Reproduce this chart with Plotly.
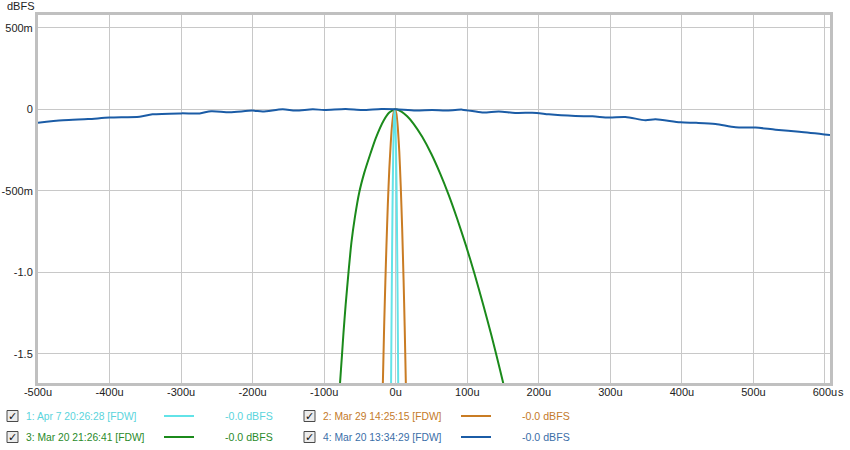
import plotly.graph_objects as go

# ---------------- data (x in microseconds, y in dBFS) ----------------
blue_x = [-500, -465, -430, -400, -358, -340, -300, -274, -258, -232, -200, -186, -158, -140, -116,
          -100, -70, -47, -20, 0, 28, 51, 70, 93, 121, 144, 167, 197, 214, 251, 275, 298, 321, 349,
          363, 398, 420, 447, 475, 503, 531, 564, 607]
blue_y = [-0.082, -0.067, -0.060, -0.051, -0.045, -0.031, -0.025, -0.025, -0.012, -0.018, -0.008,
          -0.014, 0.0, -0.008, 0.0, -0.004, 0.002, -0.004, 0.002, 0.0, -0.008, -0.004, -0.008, -0.002,
          -0.020, -0.014, -0.022, -0.022, -0.031, -0.041, -0.043, -0.051, -0.047, -0.067, -0.061,
          -0.080, -0.083, -0.090, -0.110, -0.112, -0.125, -0.137, -0.157]

green_x = [-79, -78, -75, -73, -70, -66, -62, -57, -51, -44, -36, -28, -17, -9, -1,
           8, 16, 25, 37, 50, 62, 74, 86, 98, 110, 122, 134, 146, 153]
green_y = [-1.78, -1.69, -1.50, -1.37, -1.20, -1.00, -0.82, -0.66, -0.51, -0.39, -0.28, -0.178, -0.07, -0.02, 0.0,
           -0.014, -0.043, -0.089, -0.169, -0.276, -0.393, -0.525, -0.673, -0.833, -1.007, -1.195, -1.391, -1.602, -1.73]

orange_x = [-18.5, -17, -16, -14.5, -13, -11, -9, -7, -5, -3, -1,
            1, 3, 5, 7, 9, 11, 12.5, 14, 14.5]
orange_y = [-1.78, -1.49, -1.30, -1.06, -0.84, -0.58, -0.37, -0.21, -0.093, -0.023, 0.0,
            -0.029, -0.117, -0.26, -0.47, -0.73, -1.05, -1.33, -1.65, -1.77]

cyan_x = [-6.5, -6.0, -5.5, -4.5, -3.5, -2.5, -1.5, -0.5, 0.5, 1.5, 2.5, 3.0, 3.5]
cyan_y = [-1.70, -1.38, -1.09, -0.61, -0.27, -0.068, 0.0, -0.068, -0.27, -0.61, -1.09, -1.38, -1.70]

x_ticks = [-500, -400, -300, -200, -100, 0, 100, 200, 300, 400, 500, 600]
x_labels = ["-500u", "-400u", "-300u", "-200u", "-100u", "0u", "100u", "200u", "300u", "400u", "500u", "600u"]
y_ticks = [0.5, 0, -0.5, -1.0, -1.5]
y_labels = ["500m", "0", "-500m", "-1.0", "-1.5"]

legend_names = ["1: Apr 7 20:26:28 [FDW]", "2: Mar 29 14:25:15 [FDW]",
                "3: Mar 20 21:26:41 [FDW]", "4: Mar 20 13:34:29 [FDW]"]
legend_values = ["-0.0 dBFS", "-0.0 dBFS", "-0.0 dBFS", "-0.0 dBFS"]

C_CYAN = "#62e3e8"
C_ORANGE = "#c97c24"
C_GREEN = "#1b8a1b"
C_BLUE = "#1b5ca6"
TXT_COLORS = ["#5ad4dc", "#c47a2a", "#2a8a2a", "#3a6ea8"]
LINE_COLORS = [C_CYAN, C_ORANGE, C_GREEN, C_BLUE]

W, H = 850, 450
L, R, T, B = 38, 20, 15, 67
PW, PH = W - L - R, H - T - B


def px(x):
    return (x - L) / PW


def py(y):
    return (H - B - y) / PH


fig = go.Figure()
fig.add_trace(go.Scatter(x=green_x, y=green_y, mode="lines", line=dict(color=C_GREEN, width=2, shape="spline", smoothing=0.5)))
fig.add_trace(go.Scatter(x=orange_x, y=orange_y, mode="lines", line=dict(color=C_ORANGE, width=2, shape="spline", smoothing=0.5)))
fig.add_trace(go.Scatter(x=cyan_x, y=cyan_y, mode="lines", line=dict(color=C_CYAN, width=2, shape="spline", smoothing=0.5)))
fig.add_trace(go.Scatter(x=blue_x, y=blue_y, mode="lines", line=dict(color=C_BLUE, width=2, shape="spline", smoothing=0.8)))

FONT = "Liberation Sans, Arial, sans-serif"

fig.update_layout(
    width=W, height=H,
    margin=dict(l=L, r=R, t=T, b=B, autoexpand=False),
    paper_bgcolor="white", plot_bgcolor="white",
    showlegend=False,
    font=dict(family=FONT, size=11, color="#222222"),
    xaxis=dict(range=[-500, 607], tickvals=x_ticks, ticktext=x_labels, showgrid=True, automargin=False,
               gridcolor="#c8c8c8", gridwidth=1, zeroline=False, showline=True, mirror=True,
               linecolor="#c0c0c0", linewidth=3, ticks="", ticklabelstandoff=-3,
               tickfont=dict(size=11, color="#222")),
    yaxis=dict(range=[-1.679, 0.5785], tickvals=y_ticks, ticktext=y_labels, showgrid=True, automargin=False,
               gridcolor="#c8c8c8", gridwidth=1, zeroline=False, showline=True, mirror=True,
               linecolor="#c0c0c0", linewidth=3, ticks="", tickfont=dict(size=11, color="#222")),
)

ann = []
shapes = []
# axis title and unit
ann.append(dict(x=px(21), y=py(6), xref="paper", yref="paper", text="dBFS", showarrow=False,
                font=dict(size=11, color="#222"), xanchor="center", yanchor="middle"))
ann.append(dict(x=px(836), y=py(392), xref="paper", yref="paper", text="s", showarrow=False,
                font=dict(size=11, color="#222"), xanchor="left", yanchor="middle"))

# custom legend
cols = [0, 297]
rows = [416, 437]
for i in range(4):
    cx = cols[i % 2]
    cy = rows[i // 2]
    shapes.append(dict(type="rect", xref="paper", yref="paper",
                       x0=px(cx + 7), x1=px(cx + 18), y0=py(cy - 5.5), y1=py(cy + 5.5),
                       line=dict(color="#4a4a4a", width=1), fillcolor="#ececec"))
    ann.append(dict(x=px(cx + 12.5), y=py(cy), xref="paper", yref="paper", text="✓", showarrow=False,
                    font=dict(size=11, color="#111", family="DejaVu Sans"), xanchor="center", yanchor="middle"))
    ann.append(dict(x=px(cx + 24), y=py(cy), xref="paper", yref="paper", text=legend_names[i], showarrow=False,
                    font=dict(size=10.3, color=TXT_COLORS[i]), xanchor="left", yanchor="middle"))
    shapes.append(dict(type="line", xref="paper", yref="paper",
                       x0=px(cx + 164), x1=px(cx + 194), y0=py(cy), y1=py(cy),
                       line=dict(color=LINE_COLORS[i], width=2)))
    ann.append(dict(x=px(cx + 223), y=py(cy), xref="paper", yref="paper", text=legend_values[i], showarrow=False,
                    font=dict(size=10.6, color=TXT_COLORS[i]), xanchor="left", yanchor="middle"))

fig.update_layout(annotations=ann, shapes=shapes)
fig.write_html("out.html")
